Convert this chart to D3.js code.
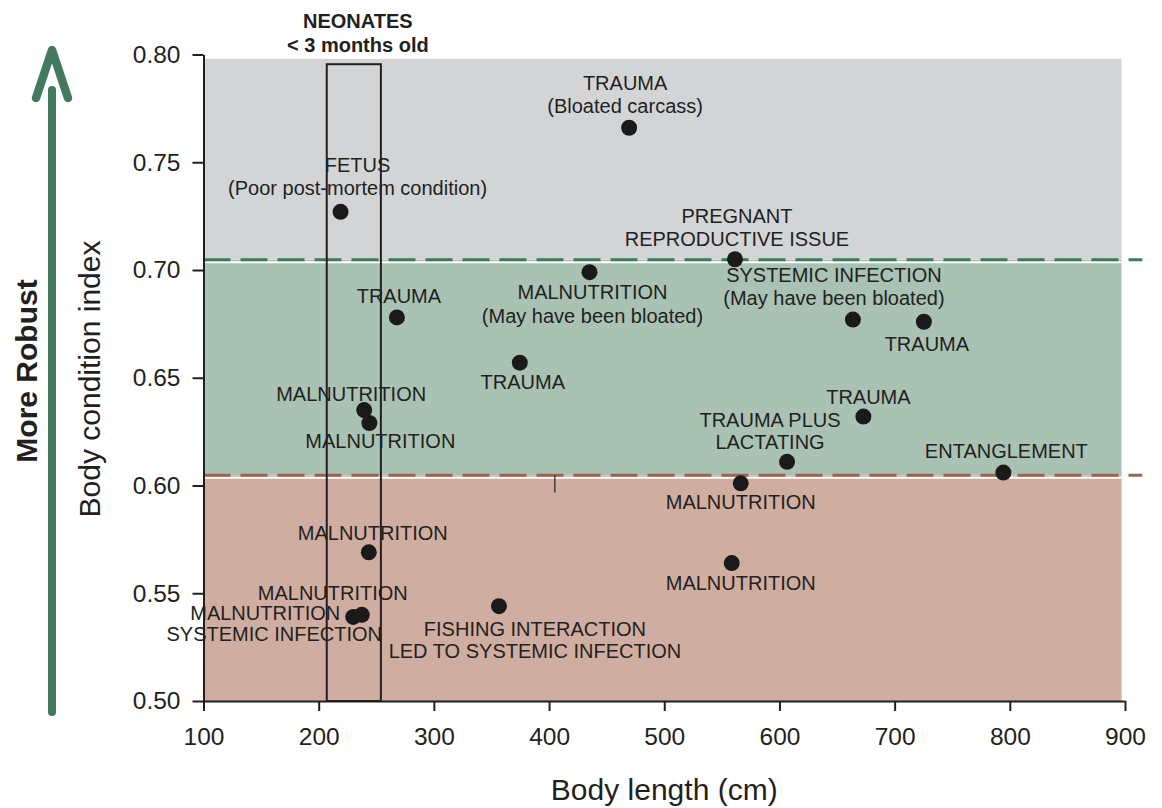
<!DOCTYPE html>
<html>
<head>
<meta charset="utf-8">
<script src="https://cdn.jsdelivr.net/npm/d3@7"></script>
<style>
  body { margin: 0; background: #fff; }
  svg text { font-family: "Liberation Sans", Arial, sans-serif; fill: #231f20; }
</style>
</head>
<body>
<div id="chart"></div>
<script>
const width = 1162, height = 808;

// body length (cm) and body condition index of each stranded whale
const lengthCm = [219.0, 469.5, 561.4, 663.8, 435.1, 267.9, 725.4, 374.6, 239.5, 244.0,
                  672.9, 606.6, 794.4, 566.4, 243.5, 558.6, 237.4, 230.0, 356.5];
const bci = [0.727, 0.766, 0.705, 0.677, 0.699, 0.678, 0.676, 0.657, 0.635, 0.629,
             0.632, 0.611, 0.606, 0.601, 0.569, 0.564, 0.540, 0.539, 0.544];
const causes = [
  ["FETUS", "(Poor post-mortem condition)"],
  ["TRAUMA", "(Bloated carcass)"],
  ["PREGNANT", "REPRODUCTIVE ISSUE"],
  ["SYSTEMIC INFECTION", "(May have been bloated)"],
  ["MALNUTRITION", "(May have been bloated)"],
  ["TRAUMA"],
  ["TRAUMA"],
  ["TRAUMA"],
  ["MALNUTRITION"],
  ["MALNUTRITION"],
  ["TRAUMA"],
  ["TRAUMA PLUS", "LACTATING"],
  ["ENTANGLEMENT"],
  ["MALNUTRITION"],
  ["MALNUTRITION"],
  ["MALNUTRITION"],
  ["MALNUTRITION"],
  ["MALNUTRITION", "SYSTEMIC INFECTION"],
  ["FISHING INTERACTION", "LED TO SYSTEMIC INFECTION"]
];

// condition classes (bands) and thresholds
const bandEdges = [0.50, 0.6047, 0.7048, 0.798];
const bandColors = ["#d0ada1", "#a9c2b4", "#d3d4d6"];
const thresholds = [0.7048, 0.6047];
const thresholdColors = ["#3e7b5e", "#9b6350"];

// neonate window (< 3 months old)
const neonateLength = [207, 254];
const neonateTop = 0.7955;

const xTicks = [100, 200, 300, 400, 500, 600, 700, 800, 900];
const yTicks = [0.50, 0.55, 0.60, 0.65, 0.70, 0.75, 0.80];

// where each label sits relative to its dot (one [dx, dy] per line)
const labelOffsets = [
  [[17, -40], [17, -17]],
  [[-4, -38], [-4, -15]],
  [[2, -36], [2, -13]],
  [[-19, -38], [-19, -15]],
  [[3, 27], [3, 51]],
  [[2, -14]],
  [[3, 29]],
  [[3, 26]],
  [[-13, -9]],
  [[11, 25]],
  [[5, -13]],
  [[-17, -35], [-17, -13]],
  [[3, -15]],
  [[0, 26]],
  [[4, -12]],
  [[9, 27]],
  [[-29, -15]],
  [[-88, 3], [-79, 24]],
  [[36, 30], [36, 52]]
];

const x = d3.scaleLinear().domain([100, 900]).range([203.5, 1125]);
const y = d3.scaleLinear().domain([0.5, 0.8]).range([701, 54.5]);

const svg = d3.select("#chart").append("svg")
  .attr("width", width)
  .attr("height", height);

// BANDS
svg.append("g").selectAll("rect")
  .data(bandColors)
  .join("rect")
  .attr("x", x(100))
  .attr("width", x(897) - x(100))
  .attr("y", (d, i) => y(bandEdges[i + 1]))
  .attr("height", (d, i) => y(bandEdges[i]) - y(bandEdges[i + 1]))
  .attr("fill", d => d);

// white gap under each threshold
svg.append("g").selectAll("line")
  .data(thresholds)
  .join("line")
  .attr("x1", x(100)).attr("x2", x(897))
  .attr("y1", d => y(d) + 2.5).attr("y2", d => y(d) + 2.5)
  .attr("stroke", "#fff")
  .attr("stroke-width", 2);

// DASHED THRESHOLDS
svg.append("g").selectAll("line")
  .data(thresholds)
  .join("line")
  .attr("x1", x(100)).attr("x2", x(915))
  .attr("y1", d => y(d)).attr("y2", d => y(d))
  .attr("stroke", (d, i) => thresholdColors[i])
  .attr("stroke-width", 3)
  .attr("stroke-dasharray", "27,10");

// stray tick mark from the original figure
svg.append("line")
  .attr("x1", x(405)).attr("x2", x(405))
  .attr("y1", y(0.6047)).attr("y2", y(0.5967))
  .attr("stroke", "#231f20")
  .attr("stroke-width", 1.2);

// NEONATE BOX
svg.append("rect")
  .attr("x", x(neonateLength[0]))
  .attr("width", x(neonateLength[1]) - x(neonateLength[0]))
  .attr("y", y(neonateTop))
  .attr("height", y(0.5) - y(neonateTop))
  .attr("fill", "none")
  .attr("stroke", "#231f20")
  .attr("stroke-width", 2);

svg.append("text")
  .attr("x", x(d3.mean(neonateLength)) + 4)
  .attr("y", 28)
  .attr("text-anchor", "middle")
  .style("font-size", "20px")
  .style("font-weight", "bold")
  .text("NEONATES");
svg.append("text")
  .attr("x", x(d3.mean(neonateLength)) + 4)
  .attr("y", 52)
  .attr("text-anchor", "middle")
  .style("font-size", "20px")
  .style("font-weight", "bold")
  .text("< 3 months old");

// AXES
const yAxis = svg.append("g")
  .attr("transform", `translate(${x(100)},0)`)
  .call(d3.axisLeft(y).tickValues(yTicks).tickFormat(d3.format(".2f")).tickSize(11).tickSizeOuter(0).tickPadding(12));
const xAxis = svg.append("g")
  .attr("transform", `translate(0,${y(0.5)})`)
  .call(d3.axisBottom(x).tickValues(xTicks).tickSize(10).tickSizeOuter(0).tickPadding(17));

[xAxis, yAxis].forEach(a => {
  a.select(".domain").attr("stroke", "#231f20").attr("stroke-width", 2);
  a.selectAll(".tick line").attr("stroke", "#231f20").attr("stroke-width", 2);
  a.selectAll(".tick text").style("font-size", "24.5px").style("font-family", "'Liberation Sans', Arial, sans-serif").attr("fill", "#231f20");
});

// POINTS
svg.append("g").selectAll("circle")
  .data(lengthCm)
  .join("circle")
  .attr("cx", d => x(d))
  .attr("cy", (d, i) => y(bci[i]))
  .attr("r", 8)
  .attr("fill", "#1a1a1a");

// LABELS
const labels = svg.append("g").style("font-size", "20px");
causes.forEach((lines, i) => {
  lines.forEach((line, j) => {
    labels.append("text")
      .attr("x", x(lengthCm[i]) + labelOffsets[i][j][0])
      .attr("y", y(bci[i]) + labelOffsets[i][j][1])
      .attr("text-anchor", "middle")
      .text(line);
  });
});

// AXIS TITLES
svg.append("text")
  .attr("transform", `translate(100,379) rotate(-90)`)
  .attr("text-anchor", "middle")
  .style("font-size", "30px")
  .text("Body condition index");

svg.append("text")
  .attr("x", (x(100) + x(900)) / 2)
  .attr("y", 800)
  .attr("text-anchor", "middle")
  .style("font-size", "30px")
  .text("Body length (cm)");

// ARROW "MORE ROBUST"
const arrowColor = "#437a5f";
svg.append("line")
  .attr("x1", 52).attr("x2", 52)
  .attr("y1", 712).attr("y2", 90)
  .attr("stroke", arrowColor)
  .attr("stroke-width", 8)
  .attr("stroke-linecap", "round");
svg.append("path")
  .attr("d", d3.line()([[36, 98], [52, 50], [68, 98]]))
  .attr("fill", "none")
  .attr("stroke", arrowColor)
  .attr("stroke-width", 8.5)
  .attr("stroke-linecap", "round")
  .attr("stroke-linejoin", "round");

svg.append("text")
  .attr("transform", `translate(37,371) rotate(-90)`)
  .attr("text-anchor", "middle")
  .style("font-size", "30px")
  .style("font-weight", "bold")
  .text("More Robust");
</script>
</body>
</html>
